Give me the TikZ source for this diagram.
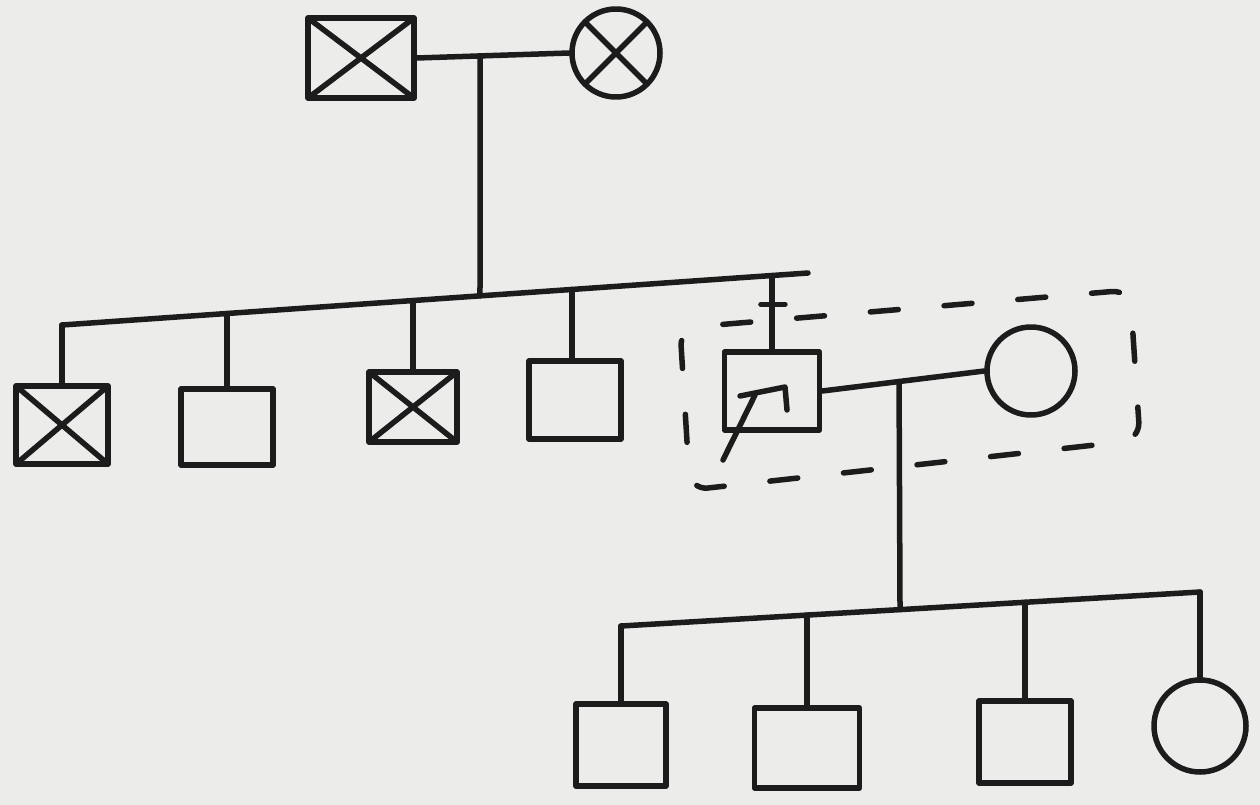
\documentclass[tikz,border=0pt]{standalone}
\usetikzlibrary{calc}
\definecolor{ink}{HTML}{1C1C1C}
\definecolor{paper}{HTML}{ECEDEA}
\begin{document}
\begin{tikzpicture}[x=1pt,y=-1pt,
  pen/.style={line width=5.5pt, draw=ink, line cap=round, line join=round},
  male/.style={pen, rectangle, inner sep=0pt, minimum width=92pt, minimum height=78pt},
  female/.style={pen, circle, inner sep=0pt, minimum size=88pt},
  crossed/.style={path picture={
    \draw[pen] (path picture bounding box.north west) -- (path picture bounding box.south east)
               (path picture bounding box.north east) -- (path picture bounding box.south west);}},
  group/.style={pen, dash pattern=on 28pt off 46pt, dash phase=49pt, rounded corners=18pt}]

\fill[paper] (0,0) rectangle (1260,805);
\useasboundingbox (0,0) rectangle (1260,805);

% generation I
\node[male, crossed, minimum width=106pt, minimum height=80pt] (gf) at (361,58) {};
\node[female, crossed] (gm) at (616,53) {};

% generation II
\node[male, crossed] (c1) at (62,425) {};
\node[male, minimum height=76pt] (c2) at (227,427) {};
\node[male, crossed, minimum width=88pt, minimum height=70pt] (c3) at (413,407) {};
\node[male] (c4) at (575,400) {};
\node[male, minimum width=95pt] (c5) at (772,391) {};
\node[female] (pw) at (1031,371) {};

% generation III
\node[male, minimum width=90pt, minimum height=82pt] (g1) at (621,745) {};
\node[male, minimum width=105pt, minimum height=80pt] (g2) at (807,748) {};
\node[male, minimum height=82pt] (g3) at (1025,742) {};
\node[female, minimum size=92pt] (g4) at (1200,726) {};

% couple I and their sibship
\draw[pen] (gf.east) -- (gm.west) coordinate[pos=0.416] (m1);
\coordinate (sL) at (62,325);
\coordinate (sR) at (808,273);
\draw[pen] (sL) -- (sR)
  coordinate[pos=0.5603] (s1)
  coordinate[pos=0.2212] (d2)
  coordinate[pos=0.4705] (d3)
  coordinate[pos=0.6836] (d4)
  coordinate[pos=0.9517] (d5);
\draw[pen] (m1) -- (s1);
\draw[pen] (sL) -- (c1.north);
\draw[pen] (d2) -- (d2 |- c2.north);
\draw[pen] (d3) -- (d3 |- c3.north);
\draw[pen] (d4) -- (d4 |- c4.north);
\draw[pen] (d5) -- (d5 |- c5.north) coordinate[pos=0.39] (tk);
\draw[pen] ([xshift=-11pt]tk) -- ([xshift=13pt]tk);

% proband arrow
\draw[pen] ([shift={(-49,69)}]c5.center) -- ([shift={(-17,4)}]c5.center);
\draw[pen] ([shift={(-32,5)}]c5.center) -- ([shift={(13,-4)}]c5.center) -- ([shift={(15,19)}]c5.center);

% couple II and their sibship
\draw[pen] (c5.east) -- (pw.west) coordinate[pos=0.474] (m2);
\coordinate (tL) at (621,626);
\coordinate (tR) at (1200,592);
\draw[pen] (tL) -- (tR)
  coordinate[pos=0.4819] (t3)
  coordinate[pos=0.3212] (e2)
  coordinate[pos=0.6978] (e3);
\draw[pen] (m2) -- (t3);
\draw[pen] (tL) -- (g1.north);
\draw[pen] (e2) -- (e2 |- g2.north);
\draw[pen] (e3) -- (e3 |- g3.north);
\draw[pen] (tR) -- (g4.north);

% dashed outline round the proband and his partner
\draw[group] (680,328) -- (1130,290) -- (1140,440) -- (690,490) -- cycle;

\end{tikzpicture}
\end{document}
